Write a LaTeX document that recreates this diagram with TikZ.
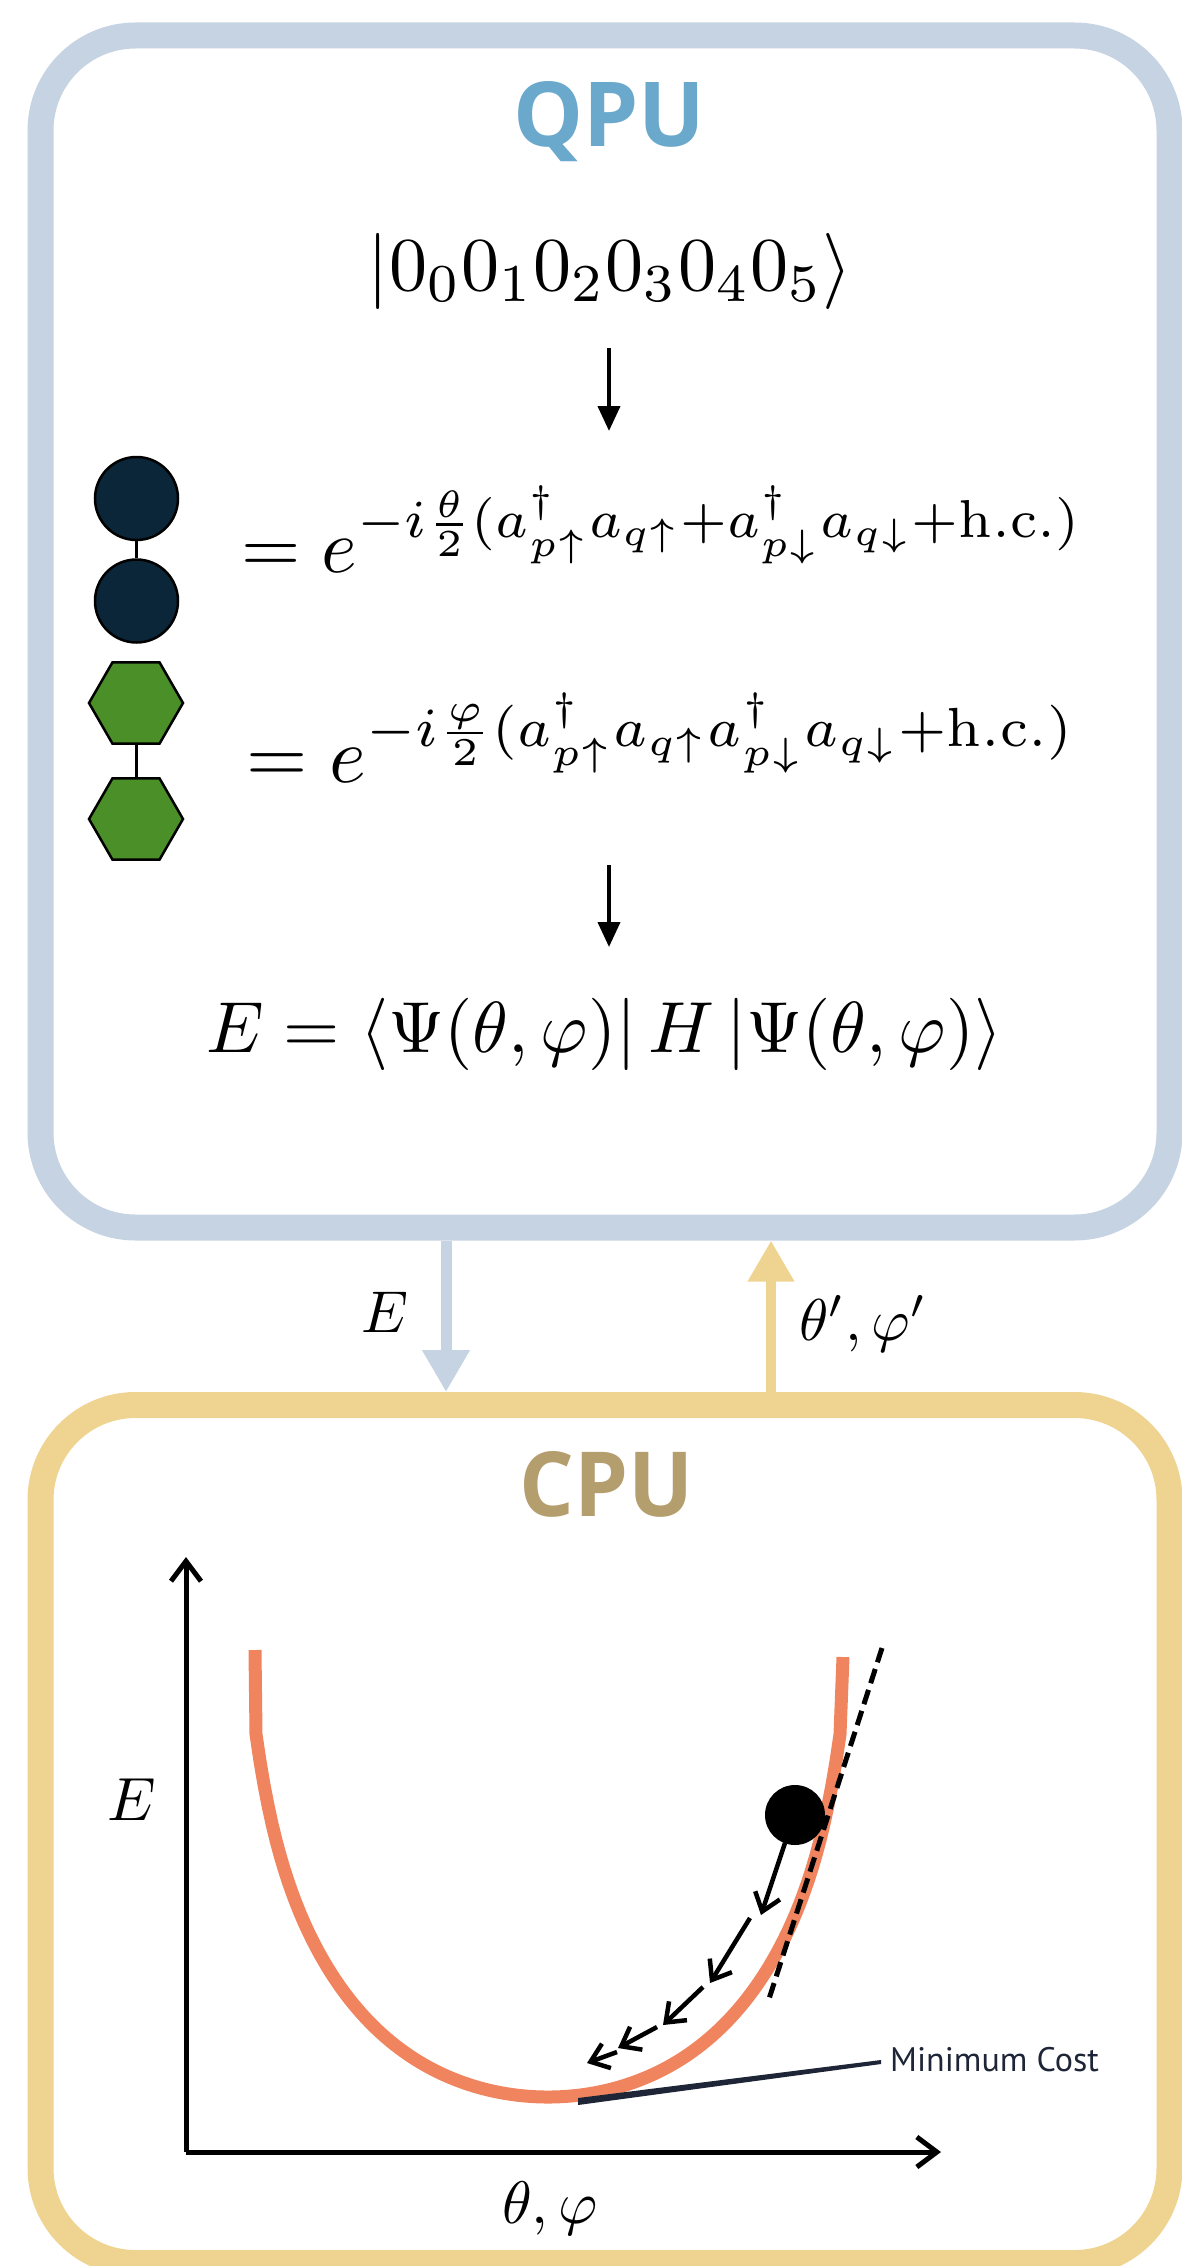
\documentclass[tikz,border=0pt]{standalone}
\usepackage[no-math]{fontspec}
\usepackage{amsmath}
\usepackage{graphicx}
\usetikzlibrary{arrows.meta,shapes.geometric}
\newfontfamily\osans{Open Sans}
\newfontfamily\ptsans{PT Sans}
\definecolor{qborder}{RGB}{198,211,226}
\definecolor{cborder}{RGB}{239,212,145}
\definecolor{qtext}{RGB}{107,169,204}
\definecolor{ctext}{RGB}{181,158,110}
\definecolor{navy}{RGB}{11,38,57}
\definecolor{hexgreen}{RGB}{74,143,39}
\definecolor{curveor}{RGB}{240,132,94}
\definecolor{mincol}{RGB}{30,37,55}
\begin{document}
\begin{tikzpicture}[x=1pt,y=-1pt,
  qbox/.style={draw=qborder, line width=26pt, rounded corners=95pt, minimum width=1129pt, minimum height=1192pt, inner sep=0pt},
  cbox/.style={draw=cborder, line width=26pt, rounded corners=95pt, minimum width=1129pt, minimum height=858pt, inner sep=0pt},
  boxtitle/.style={inner sep=0pt, anchor=base},
  mathnode/.style={inner sep=0pt},
  qcirc/.style={circle, draw=black, fill=navy, line width=2.5pt, minimum size=83pt, inner sep=0pt},
  qhex/.style={regular polygon, regular polygon sides=6, draw=black, fill=hexgreen, line width=2.5pt, minimum size=94pt, inner sep=0pt},
  link/.style={line width=3pt},
  flow/.style={line width=4pt, -{Triangle[length=25pt,width=22pt]}},
  earrow/.style={draw=qborder, line width=11pt, -{Triangle[length=42pt,width=45pt]}},
  parrow/.style={draw=cborder, line width=10pt, -{Triangle[length=41pt,width=44pt]}},
  axis/.style={line width=5pt, -{Straight Barb[length=20pt,width=30pt]}},
  grad/.style={line width=4.5pt, -{Straight Barb[length=17pt,width=26pt]}}
]
\useasboundingbox (0,0) rectangle (1182,2266);

% boxes
\node[qbox] (qpu) at (605,631.5) {};
\node[cbox] (cpu) at (605,1834) {};

% titles
\node[boxtitle, text=qtext] (qputitle) at (609,147) {\resizebox{192pt}{65pt}{\osans\bfseries QPU}};
\node[boxtitle, text=ctext] (cputitle) at (607,1516) {\resizebox{174pt}{65pt}{\osans\bfseries CPU}};

% ket
\node[mathnode, anchor=base] (ket) at (610,290) {\resizebox{484pt}{!}{$\lvert 0_0 0_1 0_2 0_3 0_4 0_5\rangle$}};
\coordinate (a1s) at (609,348);
\coordinate (a1e) at (609,431);
\draw[flow] (a1s) -- (a1e);

% gate 1: circles
\node[qcirc] (c1) at (136.5,498.5) {};
\node[qcirc] (c2) at (136.5,601) {};
\draw[link] (c1.south) -- (c2.north);
\node[mathnode, anchor=base west] (eqA) at (241,572) {\resizebox{842pt}{!}{$= e^{-i\frac{\theta}{2}(a^{\dagger}_{p\uparrow}a_{q\uparrow}+a^{\dagger}_{p\downarrow}a_{q\downarrow}+\mathrm{h.c.})}$}};

% gate 2: hexagons
\node[qhex] (h1) at (136,703) {};
\node[qhex] (h2) at (136,819) {};
\draw[link] (h1.south) -- (h2.north);
\node[mathnode, anchor=base west] (eqB) at (246,782) {\resizebox{829pt}{!}{$= e^{-i\frac{\varphi}{2}(a^{\dagger}_{p\uparrow}a_{q\uparrow}a^{\dagger}_{p\downarrow}a_{q\downarrow}+\mathrm{h.c.})}$}};

\coordinate (a2s) at (609,865);
\coordinate (a2e) at (609,947);
\draw[flow] (a2s) -- (a2e);

% energy
\node[mathnode, anchor=base west] (energy) at (206,1052) {\resizebox{796pt}{!}{$E = \left\langle\Psi(\theta,\varphi)\right| H \left|\Psi(\theta,\varphi)\right\rangle$}};

% QPU <-> CPU arrows
\draw[earrow] ([xshift=-159pt]qpu.south) -- ([xshift=-159pt]cpu.north);
\draw[parrow] ([xshift=166pt]cpu.north) -- ([xshift=166pt]qpu.south);
\node[mathnode, anchor=base] (lblE) at (385,1332) {\scalebox{5.9}{$E$}};
\node[mathnode, anchor=base] (lblP) at (863,1340) {\scalebox{5.9}{$\theta',\varphi'$}};

% plot
\coordinate (orig) at (186,2152);
\draw[axis] (orig) -- (186,1557);
\draw[axis] (orig) -- (941,2152);
\node[mathnode, anchor=base] (ylab) at (132,1820) {\scalebox{6.1}{$E$}};
\node[mathnode, anchor=base] (xlab) at (550,2223) {\scalebox{6.0}{$\theta,\varphi$}};

\draw[curveor, line width=13pt, line join=round] (255,1650) -- plot[domain=-292:292, samples=147]
  ({548+\x}, {2097 - 277*(1/cos(deg(\x*0.003729)) - 1) - 54*(abs(\x)/295)^20}) -- (843,1657);

\fill (795,1815) circle (30);
\draw[line width=5pt, dash pattern=on 15pt off 7pt] (882,1648) -- (768,2002);

\draw[grad] (785,1843) -- (761,1915);
\draw[grad] (750,1918) -- (710,1983);
\draw[grad] (703,1987) -- (663,2025);
\draw[grad] (657,2027) -- (618,2048);
\draw[grad] (617,2052) -- (587,2063);

\fill[mincol] (578,2098) -- (881,2060) -- (881,2064) -- (578,2105) -- cycle;
\node[inner sep=0pt, anchor=base west, text=mincol, font=\ptsans\fontsize{34}{38}\selectfont] (mincost) at (890,2071) {Minimum Cost};
\end{tikzpicture}
\end{document}
